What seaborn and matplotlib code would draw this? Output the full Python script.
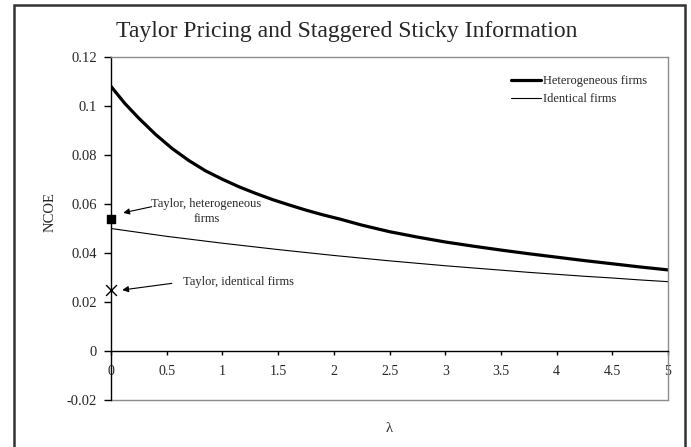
import matplotlib
matplotlib.use("Agg")
import matplotlib.pyplot as plt
import seaborn as sns
import pandas as pd
from matplotlib.patches import Rectangle
from matplotlib.lines import Line2D

# ---- data ----
lam_het = [0.0, 0.125, 0.25, 0.4, 0.55, 0.7, 0.85, 1.0, 1.15, 1.3, 1.45, 1.6,
           1.75, 1.9, 2.05, 2.25, 2.5, 2.75, 3.0, 3.25, 3.5, 3.75, 4.0, 4.25,
           4.5, 4.75, 5.0]
ncoe_het = [0.1080, 0.1010, 0.0950, 0.0884, 0.0826, 0.0777, 0.0735, 0.0701,
            0.0670, 0.0643, 0.0618, 0.0596, 0.0575, 0.0556, 0.0539, 0.0514,
            0.0487, 0.0465, 0.0445, 0.0428, 0.0412, 0.0397, 0.0383, 0.0369,
            0.0356, 0.0343, 0.0331]
lam_id = [0.0, 0.25, 0.5, 0.75, 1.0, 1.25, 1.5, 1.75, 2.0, 2.25, 2.5,
          2.75, 3.0, 3.25, 3.5, 3.75, 4.0, 4.25, 4.5, 4.75, 5.0]
ncoe_id = [0.0500, 0.0484, 0.0468, 0.0454, 0.0440, 0.0427, 0.0414, 0.0402,
           0.0390, 0.0379, 0.0368, 0.0358, 0.0348, 0.0339, 0.0330, 0.0321,
           0.0313, 0.0305, 0.0298, 0.0290, 0.0283]
series_names = ["Heterogeneous firms", "Identical firms"]
taylor_het = 0.054
taylor_id = 0.025
x_ticks = [0, 0.5, 1, 1.5, 2, 2.5, 3, 3.5, 4, 4.5, 5]
x_ticklabels = ["0", "0.5", "1", "1.5", "2", "2.5", "3", "3.5", "4", "4.5", "5"]
y_ticks = [-0.02, 0, 0.02, 0.04, 0.06, 0.08, 0.1, 0.12]
y_ticklabels = ["-0.02", "0", "0.02", "0.04", "0.06", "0.08", "0.1", "0.12"]
title = "Taylor Pricing and Staggered Sticky Information"

df = pd.DataFrame({
    "lam": lam_het + lam_id,
    "ncoe": ncoe_het + ncoe_id,
    "series": [series_names[0]] * len(lam_het) + [series_names[1]] * len(lam_id),
})

sns.set_style("white")
plt.rcParams["font.family"] = ["Liberation Serif", "DejaVu Serif"]

W, H = 691, 447
fig = plt.figure(figsize=(W / 100, H / 100), dpi=100)
L, R, T, B = 111, 668, 57, 400
ax = fig.add_axes([L / W, 1 - B / H, (R - L) / W, (B - T) / H])

sns.lineplot(data=df, x="lam", y="ncoe", hue="series", size="series",
             sizes={series_names[0]: 2.3, series_names[1]: 0.8},
             palette={series_names[0]: "black", series_names[1]: "black"},
             legend=False, ax=ax)
for ln in ax.lines:
    ln.set_solid_joinstyle("round")

ax.set_xlim(0, 5)
ax.set_ylim(-0.02, 0.12)
ax.set_xticks(x_ticks)
ax.set_xticklabels(x_ticklabels, fontsize=10.5)
ax.set_yticks(y_ticks)
ax.set_yticklabels(y_ticklabels, fontsize=10.5)
ax.set_xlabel("")
ax.set_ylabel("")

for s in ["top", "right"]:
    ax.spines[s].set_color("#8c8c8c")
    ax.spines[s].set_linewidth(1.0)
ax.spines["left"].set_color("black")
ax.spines["left"].set_linewidth(1.0)
ax.spines["bottom"].set_position(("data", 0))
ax.spines["bottom"].set_color("black")
ax.spines["bottom"].set_linewidth(1.0)
ax.axhline(-0.02, color="#8c8c8c", lw=1.0, clip_on=False, zorder=0)
ax.tick_params(axis="y", direction="out", length=5, width=1, color="black", pad=5, left=True)
ax.tick_params(axis="x", direction="out", length=3, width=1, color="black", pad=7, bottom=True)
ax.grid(False)

# Taylor markers
ax.scatter([0], [taylor_het], marker="s", s=40, color="black", clip_on=False, zorder=5)
ax.scatter([0], [taylor_id], marker="x", s=60, color="black", linewidths=1.0, clip_on=False, zorder=5)

arrow = dict(arrowstyle="-|>", color="black", lw=0.8, mutation_scale=9, shrinkA=0, shrinkB=0)
ax.annotate("", xy=(0.110, 0.0564), xytext=(0.365, 0.0589), arrowprops=arrow)
ax.text(0.857, 0.0569, "Taylor, heterogeneous\nfirms", ha="center", va="center",
        fontsize=9, linespacing=1.35)
ax.annotate("", xy=(0.101, 0.0249), xytext=(0.545, 0.0276), arrowprops=arrow)
ax.text(0.646, 0.0283, "Taylor, identical firms", ha="left", va="center", fontsize=9)

# legend
handles = [Line2D([], [], color="black", lw=2.3), Line2D([], [], color="black", lw=0.8)]
fig.legend(handles, series_names, loc="upper left", bbox_to_anchor=(511 / W, 1 - 75 / H),
           frameon=False, fontsize=9, handlelength=2.4, handletextpad=0.15,
           labelspacing=0.5, borderpad=0, borderaxespad=0)

fig.text(347 / W, 1 - 31 / H, title, ha="center", va="center", fontsize=17)
fig.text(50 / W, 1 - 212 / H, "NCOE", ha="center", va="center", rotation=90, fontsize=10.5)
fig.text(389 / W, 1 - 428 / H, "λ", ha="center", va="center", fontsize=10.5,
         family=["Liberation Serif", "DejaVu Serif"])

fig.patches.append(Rectangle((14 / W, -0.02), (685 - 14) / W, 1.02 - 5 / H,
                             transform=fig.transFigure, fill=False,
                             edgecolor="#333333", lw=1.8, clip_on=False))

fig.savefig("out.png", dpi=100)
